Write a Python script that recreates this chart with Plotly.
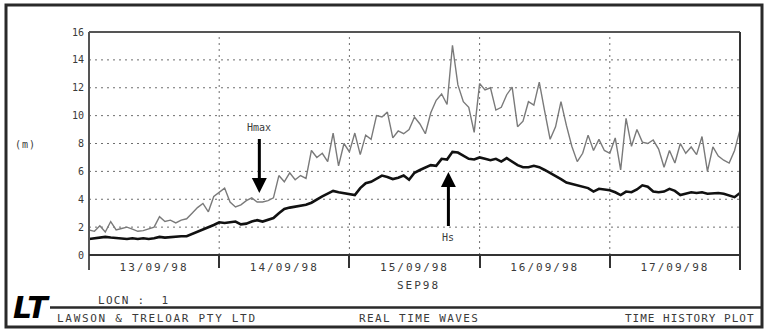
import pandas as pd
import plotly.graph_objects as go

# Hourly wave heights (m), 13/09/98 00:00 to 18/09/98 00:00
start_time = "1998-09-13 00:00"
hmax = [
    1.8, 1.7, 2.1, 1.65, 2.4, 1.8, 1.9, 2.0, 1.85, 1.7, 1.75, 1.9,
    2.0, 2.75, 2.4, 2.5, 2.3, 2.5, 2.6, 3.0, 3.4, 3.7, 3.1, 4.2,
    4.5, 4.8, 3.8, 3.45, 3.6, 3.9, 4.1, 3.8, 3.8, 3.9, 4.1, 5.7,
    5.25, 5.9, 5.4, 5.7, 5.5, 7.5, 7.0, 7.3, 6.7, 8.75, 6.4, 8.0,
    7.4, 8.75, 7.2, 8.6, 8.3, 10.0, 9.9, 10.25, 8.4, 8.9, 8.7, 9.0,
    9.9, 9.4, 8.7, 10.2, 11.1, 11.55, 10.8, 15.05, 12.2, 11.0, 10.6, 8.8,
    12.3, 11.85, 12.0, 10.4, 10.6, 11.5, 12.05, 9.2, 9.6, 11.0, 10.75, 12.4,
    10.3, 8.3, 9.2, 11.0, 9.3, 7.8, 6.7, 7.3, 8.6, 7.5, 8.3, 7.5,
    7.3, 8.4, 6.1, 9.8, 7.8, 9.0, 8.1, 8.0, 8.25, 7.6, 6.3, 7.5,
    6.6, 8.0, 7.3, 7.75, 7.2, 8.5, 6.0, 7.75, 7.1, 6.8, 6.6, 7.5, 9.0,
]
hs = [
    1.15, 1.2, 1.2, 1.3, 1.25, 1.2, 1.15, 1.15, 1.2, 1.15, 1.2, 1.15,
    1.2, 1.3, 1.25, 1.3, 1.3, 1.35, 1.35, 1.5, 1.7, 1.85, 2.0, 2.15,
    2.35, 2.3, 2.35, 2.4, 2.2, 2.25, 2.4, 2.5, 2.4, 2.5, 2.65, 3.0,
    3.3, 3.4, 3.45, 3.5, 3.6, 3.75, 4.0, 4.2, 4.4, 4.6, 4.5, 4.45,
    4.4, 4.3, 4.8, 5.15, 5.25, 5.5, 5.7, 5.6, 5.45, 5.55, 5.7, 5.4,
    5.9, 6.1, 6.3, 6.45, 6.4, 6.9, 6.85, 7.4, 7.35, 7.1, 6.9, 6.85,
    7.0, 6.9, 6.8, 6.9, 6.7, 6.95, 6.7, 6.45, 6.3, 6.3, 6.4, 6.3,
    6.1, 5.9, 5.65, 5.45, 5.2, 5.1, 5.0, 4.85, 4.8, 4.55, 4.75, 4.7,
    4.65, 4.5, 4.3, 4.55, 4.5, 4.7, 5.0, 4.9, 4.55, 4.5, 4.55, 4.75,
    4.6, 4.3, 4.4, 4.5, 4.45, 4.5, 4.4, 4.45, 4.45, 4.4, 4.3, 4.15, 4.45,
]
day_starts = ["1998-09-13", "1998-09-14", "1998-09-15", "1998-09-16", "1998-09-17", "1998-09-18"]
day_labels = ["13/09/98", "14/09/98", "15/09/98", "16/09/98", "17/09/98"]
y_ticks = [0, 2, 4, 6, 8, 10, 12, 14, 16]
grid_levels = [2, 4, 6, 8, 10, 12, 14]

# Arrow targets (time, height) for the series labels
hmax_arrow = ("1998-09-14 07:24", 4.45)
hs_arrow = ("1998-09-15 18:15", 5.95)

t0 = pd.Timestamp(start_time)
times = [t0 + pd.Timedelta(hours=i) for i in range(len(hmax))]
day_mid = [pd.Timestamp(d) + pd.Timedelta(hours=12) for d in day_starts[:-1]]

W, H = 767, 330
ML, MR, MT, MB = 89, 27, 32, 75
PW, PH = W - ML - MR, H - MT - MB

def fx(px):
    return (px - ML) / PW

def fy(py):
    return (H - MB - py) / PH

def spaced(text, sp):
    return f'<span style="letter-spacing:{sp}px">{text}</span>'

FONT = "DejaVu Sans Mono"
INK = "#3a3a3a"
GRID = dict(color="#6e6e6e", width=1, dash="2px,4px")

fig = go.Figure()
# dotted grid as thin traces beneath the data
for g in grid_levels:
    fig.add_trace(go.Scatter(x=[day_starts[0], day_starts[-1]], y=[g, g], mode="lines",
                             line=GRID, hoverinfo="skip", showlegend=False))
for d in day_starts[1:-1]:
    fig.add_trace(go.Scatter(x=[d, d], y=[0, 16], mode="lines",
                             line=GRID, hoverinfo="skip", showlegend=False))

fig.add_trace(go.Scatter(x=times, y=hmax, mode="lines", name="Hmax",
                         line=dict(color="#7a7a7a", width=1.4)))
fig.add_trace(go.Scatter(x=times, y=hs, mode="lines", name="Hs",
                         line=dict(color="#111111", width=2.6)))

shapes = []
# outer frame
shapes.append(dict(type="rect", xref="paper", yref="paper",
                   x0=fx(6), x1=fx(762), y0=fy(327), y1=fy(5),
                   line=dict(color="#2a2a2a", width=3)))
# footer separator
shapes.append(dict(type="line", xref="paper", yref="paper",
                   x0=fx(50), x1=fx(762), y0=fy(307.5), y1=fy(307.5),
                   line=dict(color="#2a2a2a", width=2.5)))
# plot frame
shapes.append(dict(type="line", xref="paper", yref="paper",
                   x0=0, x1=1, y0=1, y1=1, line=dict(color="#555555", width=2)))
shapes.append(dict(type="line", xref="paper", yref="paper",
                   x0=0, x1=0, y0=fy(270), y1=1, line=dict(color="#555555", width=2)))
shapes.append(dict(type="line", xref="paper", yref="paper",
                   x0=1, x1=1, y0=fy(270), y1=1, line=dict(color="#333333", width=2)))
shapes.append(dict(type="line", xref="paper", yref="paper",
                   x0=0, x1=1, y0=0, y1=0, line=dict(color="#333333", width=2)))

def label(px, py, text, size=11, anchor="center", color=INK, family=FONT):
    return dict(xref="paper", yref="paper", x=fx(px), y=fy(py),
                xanchor=anchor, yanchor="middle", text=text, showarrow=False,
                font=dict(family=family, size=size, color=color))

annotations = [
    label(25, 144, spaced("(m)", 1), size=10),
    label(418, 285, spaced("SEP98", 2)),
    label(96, 300, spaced("LOCN :  1", 1.3), anchor="left"),
    label(55, 318, spaced("LAWSON &amp; TRELOAR PTY LTD", 1.7), anchor="left"),
    label(357, 318, spaced("REAL TIME WAVES", 1.4), anchor="left"),
    label(623, 318, spaced("TIME HISTORY PLOT", 1.0), anchor="left"),
    # company logo mark
    label(31, 307, "<b><i>LT</i></b>", size=30, color="#000000", family="DejaVu Sans"),
]
# series labels with arrows
annotations.append(dict(x=hmax_arrow[0], y=hmax_arrow[1], xref="x", yref="y",
                        text="Hmax", showarrow=True, ax=0, ay=-65,
                        arrowhead=2, arrowsize=1, arrowwidth=3, arrowcolor="#000000",
                        startstandoff=4,
                        font=dict(family=FONT, size=10, color=INK)))
annotations.append(dict(x=hs_arrow[0], y=hs_arrow[1], xref="x", yref="y",
                        text="Hs", showarrow=True, ax=0, ay=65,
                        arrowhead=2, arrowsize=1, arrowwidth=3, arrowcolor="#000000",
                        startstandoff=4,
                        font=dict(family=FONT, size=10, color=INK)))

fig.update_layout(
    width=W, height=H,
    margin=dict(l=ML, r=MR, t=MT, b=MB),
    paper_bgcolor="white", plot_bgcolor="white",
    showlegend=False,
    shapes=shapes, annotations=annotations,
    xaxis=dict(
        type="date",
        range=[day_starts[0], day_starts[-1]],
        tickmode="array", tickvals=day_mid,
        ticktext=[spaced(s, 2) for s in day_labels],
        ticks="", showgrid=False, zeroline=False, showline=False,
        ticklabelstandoff=4,
        tickfont=dict(family=FONT, size=11, color=INK),
        minor=dict(tickmode="array", tickvals=day_starts, ticks="outside",
                   ticklen=12, tickwidth=1.5, tickcolor="#333333", showgrid=False),
    ),
    yaxis=dict(
        range=[0, 16], tickmode="array", tickvals=y_ticks,
        ticktext=[str(v) for v in y_ticks],
        ticks="", showgrid=False, zeroline=False, showline=False,
        ticklabelstandoff=4,
        tickfont=dict(family=FONT, size=10, color=INK),
    ),
)

fig.write_html("out.html")
